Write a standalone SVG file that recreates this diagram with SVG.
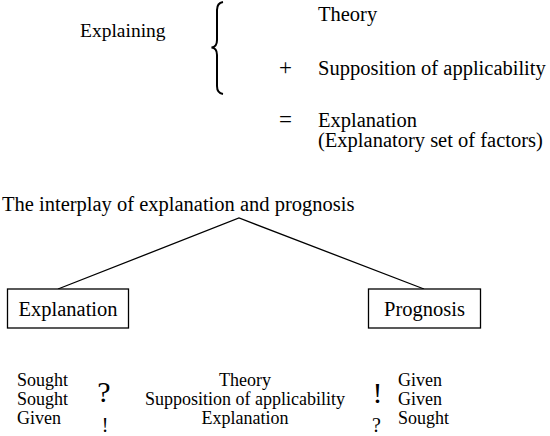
<svg xmlns="http://www.w3.org/2000/svg" width="550" height="436" viewBox="0 0 550 436" font-family="'Liberation Serif', 'DejaVu Serif', serif">
<style>
text{font-family:'Liberation Serif','DejaVu Serif',serif;fill:#000}
.t{font-size:20.5px}
.b{font-size:18px}
.big{font-size:30px}
.sm{font-size:20px}
.box{fill:#fff;stroke:#000;stroke-width:1.3}
.ln{fill:none;stroke:#000;stroke-width:1.3}
</style>
<rect width="550" height="436" fill="#fff"/>
<g id="formula">
<text x="80" y="37" style="font-size:19.5px">Explaining</text>
<path d="M223,2 Q217,3 217,10 L217,40 Q217,47 211.5,47.5 Q217,48 217,55 L217,86 Q217,93 223,94" fill="none" stroke="#000" stroke-width="2"/>
<text class="t" x="318" y="21">Theory</text>
<text x="285.5" y="74.5" text-anchor="middle" style="font-size:23px">+</text>
<text class="t" x="318" y="74.5">Supposition of applicability</text>
<text x="285.5" y="126.5" text-anchor="middle" style="font-size:23px">=</text>
<text class="t" x="318" y="127">Explanation</text>
<text class="t" x="318" y="147">(Explanatory set of factors)</text>
</g>
<g id="title">
<text class="t" x="2" y="211">The interplay of explanation and prognosis</text>
</g>
<g id="connectors">
<polyline class="ln" points="58,289 239,218 424,289"/>
</g>
<g id="explanation">
<rect class="box" x="7.5" y="289" width="121" height="39"/>
<text class="t" x="68" y="315.5" text-anchor="middle">Explanation</text>
</g>
<g id="prognosis">
<rect class="box" x="368.5" y="289" width="112" height="39"/>
<text class="t" x="424.5" y="315.5" text-anchor="middle">Prognosis</text>
</g>
<g id="table">
<text class="b" x="17" y="386">Sought</text>
<text class="b" x="17" y="405">Sought</text>
<text class="b" x="17" y="424">Given</text>
<text class="big" x="104" y="402" text-anchor="middle">?</text>
<text class="sm" x="105" y="432" text-anchor="middle">!</text>
<text class="b" x="245" y="386" text-anchor="middle">Theory</text>
<text class="b" x="245" y="405" text-anchor="middle">Supposition of applicability</text>
<text class="b" x="245" y="424" text-anchor="middle">Explanation</text>
<text class="big" x="377.5" y="403" text-anchor="middle">!</text>
<text class="sm" x="376.5" y="432" text-anchor="middle">?</text>
<text class="b" x="398" y="386">Given</text>
<text class="b" x="398" y="405">Given</text>
<text class="b" x="398" y="424">Sought</text>
</g>
</svg>
